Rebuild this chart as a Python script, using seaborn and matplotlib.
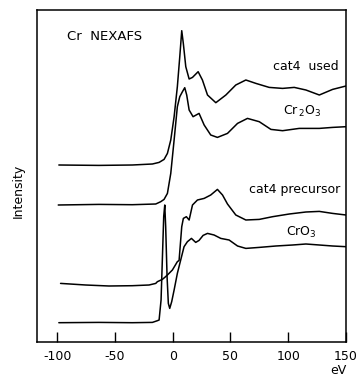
import numpy as np
import pandas as pd
import matplotlib
matplotlib.use("Agg")
import matplotlib.pyplot as plt
import seaborn as sns

# ---- data (energy relative to edge, eV; intensity in arbitrary offset units) ----
used_ev = [-98.6, -63.9, -35.0, -17.6, -11.8, -7.5, -4.6, -1.7, 1.2, 4.0, 6.1, 7.8, 9.2, 11.3,
           14.2, 17.1, 22.0, 25.7, 30.1, 37.3, 46.0, 54.6, 63.3, 72.0, 83.5, 95.1, 105.2,
           115.3, 126.9, 138.4, 150.0]
used_int = [175.7, 175.3, 175.7, 176.7, 178.3, 181.3, 187.3, 200.7, 224.0, 254.0, 284.0, 310.0,
            297.0, 274.0, 261.7, 263.3, 269.0, 260.7, 245.7, 238.0, 245.7, 255.7, 260.7, 257.3,
            253.3, 252.3, 253.3, 250.7, 245.7, 251.3, 254.7]

cr2o3_ev = [-99.1, -63.9, -35.0, -14.7, -10.4, -7.5, -4.6, -1.7, 1.2, 4.0, 6.1, 8.4, 10.4,
            12.1, 14.2, 17.6, 22.8, 27.2, 32.9, 38.7, 47.4, 56.1, 64.7, 74.9, 85.0, 95.1,
            109.5, 126.9, 138.4, 150.0]
cr2o3_int = [135.7, 136.3, 136.0, 136.7, 139.0, 141.3, 147.3, 167.3, 200.7, 234.0, 244.0, 249.0,
             253.0, 245.7, 230.7, 224.0, 227.3, 215.7, 205.7, 203.3, 207.3, 217.3, 222.3, 219.0,
             211.3, 210.0, 212.3, 212.3, 213.3, 214.0]

prec_ev = [-97.1, -75.4, -55.2, -35.0, -20.5, -14.7, -13.3, -9.0, -6.9, -4.6, -0.3, 4.0, 5.5,
           7.8, 9.2, 11.8, 14.2, 17.1, 21.4, 27.2, 32.9, 38.7, 43.1, 47.4, 54.6, 63.3, 74.9,
           86.4, 100.9, 115.3, 126.9, 138.4, 150.0]
prec_int = [57.3, 55.7, 54.7, 55.0, 55.7, 57.3, 59.0, 61.3, 63.3, 65.7, 70.7, 79.0, 80.3,
            114.0, 122.3, 124.0, 120.7, 135.7, 140.7, 142.3, 145.7, 151.3, 145.7, 136.7, 125.7,
            120.7, 121.3, 124.0, 126.7, 128.7, 129.3, 127.3, 125.7]

cro3_ev = [-98.6, -63.9, -35.0, -17.6, -13.3, -11.8, -10.1, -9.0, -7.8, -6.9, -6.1, -4.9, -3.8,
           -2.6, -0.9, 1.2, 4.0, 6.9, 9.8, 12.7, 16.2, 19.9, 22.8, 26.3, 30.1, 35.8, 41.6,
           48.8, 56.1, 63.3, 74.9, 89.3, 103.8, 115.3, 126.9, 138.4, 150.0]
cro3_int = [18.0, 18.3, 18.0, 18.3, 20.0, 20.7, 40.7, 80.7, 124.3, 135.7, 114.0, 64.0, 37.3,
            32.3, 39.0, 50.7, 67.3, 80.7, 94.0, 99.0, 102.3, 98.3, 100.3, 105.3, 107.3, 105.7,
            102.3, 100.7, 94.7, 92.3, 93.3, 94.7, 95.7, 96.7, 95.7, 94.7, 94.0]

tick_values = [-100, -50, 0, 50, 100, 150]
tick_labels = ["-100", "-50", "0", "50", "100", "150"]

title_text = "Cr  NEXAFS"
series_labels = ["cat4  used", "Cr$_{\\,2}$O$_3$", "cat4 precursor", "CrO$_3$"]

# ---- plotting ----
sns.set_style("ticks")
plt.rcParams["font.family"] = ["DejaVu Sans"]
plt.rcParams["mathtext.fontset"] = "dejavusans"
plt.rcParams["text.color"] = "black"
plt.rcParams["xtick.color"] = "black"
plt.rcParams["xtick.labelcolor"] = "black"

fig = plt.figure(figsize=(3.58, 3.79), dpi=100)
ax = fig.add_axes([37 / 358, 1 - 342 / 379, 309 / 358, 332 / 379])

series = [(used_ev, used_int), (cr2o3_ev, cr2o3_int), (prec_ev, prec_int), (cro3_ev, cro3_int)]
for i, (xe, yi) in enumerate(series):
    df = pd.DataFrame({"eV": xe, "Intensity": yi})
    sns.lineplot(data=df, x="eV", y="Intensity", ax=ax, color="black", linewidth=1.1,
                 sort=False, estimator=None)

ax.set_xlim(-117.5, 149)
ax.set_ylim(-1.3, 330.7)
ax.set_xticks(tick_values)
ax.set_xticklabels(tick_labels, fontsize=9, color="black")
ax.set_yticks([])
ax.tick_params(axis="x", direction="in", length=7, width=1.0, pad=6, color="black")
for s in ax.spines.values():
    s.set_visible(True)
    s.set_color("black")
    s.set_linewidth(1.1)
ax.set_xlabel("")
ax.set_ylabel("")

ax.text(0.096, 0.92, title_text, transform=ax.transAxes, fontsize=9.5, ha="left", va="center",
        color="black")
label_pos = [(0.975, 0.829), (0.921, 0.693), (0.981, 0.458), (0.905, 0.331)]
for lab, (lx, ly) in zip(series_labels, label_pos):
    ax.text(lx, ly, lab, transform=ax.transAxes, fontsize=9, ha="right", va="center",
            color="black")

fig.text(18.3 / 358, 1 - 191 / 379, "Intensity", rotation=90, fontsize=9, ha="center",
         va="center", color="black")
fig.text(338.5 / 358, 1 - 371 / 379, "eV", fontsize=9, ha="center", va="center", color="black")

fig.savefig("out.png", dpi=100)
